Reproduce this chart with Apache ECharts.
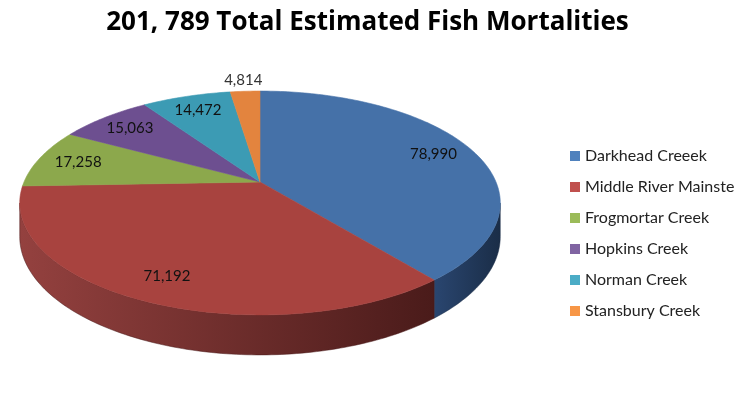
<!DOCTYPE html>
<html>
<head>
<meta charset="utf-8">
<script src="https://cdn.jsdelivr.net/npm/echarts@6/dist/echarts.min.js"></script>
<style>
  html, body { margin: 0; padding: 0; background: #fff; }
  #chart { width: 735px; height: 400px; }
</style>
</head>
<body>
<div id="chart"></div>
<script>
// data
var titleText = '201, 789 Total Estimated Fish Mortalities';
var categories = ['Darkhead Creeek', 'Middle River Mainstem', 'Frogmortar Creek', 'Hopkins Creek', 'Norman Creek', 'Stansbury Creek'];
var values = [78990, 71192, 17258, 15063, 14472, 4814];

// colours (legend / top face / side wall)
var legendColors = ['#4F81BD', '#C0504D', '#9BBB59', '#8064A2', '#4BACC6', '#F79646'];
var topColors = ['#4571A8', '#A8433F', '#8CA84C', '#6D4F90', '#3C9BB4', '#E3843E'];
var sideColors = [['#2A4670', '#1A2D47'], ['#94413F', '#4A1B1A'], ['#6A8236', '#4A5C24'],
                  ['#523A70', '#3A2850'], ['#2C7890', '#1E5466'], ['#B8622A', '#80421C']];

// fake 3d: perspective projected disc
var cx = 260, cy = 182, A = 236, B = 108, k = 0.1875, D = 32.5;
var total = values.reduce(function (a, b) { return a + b; }, 0);
var cum = [];
values.reduce(function (acc, v, i) { cum[i] = acc; return acc + v; }, 0);
var phiLo = Math.acos(-k) * 180 / Math.PI;
var phiHi = 360 - phiLo;

function project(phi, r) {
    var p = phi * Math.PI / 180;
    var u = r * Math.sin(p), v = r * Math.cos(p);
    var d = 1 + k * v;
    return [cx + A * u / d, cy - B * v / d];
}
function projectBottom(phi) {
    var pt = project(phi, 1);
    var v = Math.cos(phi * Math.PI / 180);
    return [pt[0], pt[1] + D / (1 + k * v)];
}
function rim(a, b, fn) {
    var pts = [];
    var n = Math.max(2, Math.ceil(Math.abs(b - a)));
    for (var j = 0; j <= n; j++) pts.push(fn(a + (b - a) * j / n));
    return pts;
}
function fmt(n) {
    return String(n).replace(/\B(?=(\d{3})+(?!\d))/g, ',');
}

function renderSlice(params, api) {
    var i = params.seriesIndex;
    var val = api.value(0);
    var start = cum[i] / total * 360;
    var end = (cum[i] + val) / total * 360;
    var children = [];

    var topPts = [[cx, cy]].concat(rim(start, end, function (p) { return project(p, 1); }));
    children.push({
        type: 'polygon',
        z2: 10,
        shape: { points: topPts },
        style: { fill: topColors[i], stroke: topColors[i], lineWidth: 0.6 }
    });

    var s = Math.max(start, phiLo), e = Math.min(end, phiHi);
    if (s < e) {
        var sidePts = rim(s, e, function (p) { return project(p, 1); })
            .concat(rim(e, s, projectBottom));
        children.push({
            type: 'polygon',
            z2: 1,
            shape: { points: sidePts },
            style: {
                fill: new echarts.graphic.LinearGradient(0, 0, 1, 0, [
                    { offset: 0, color: sideColors[i][0] },
                    { offset: 1, color: sideColors[i][1] }
                ]),
                stroke: sideColors[i][1],
                lineWidth: 0.5
            }
        });
    }

    // small slices get their label outside, the rest inside
    var mid = (start + end) / 2;
    var r = val / total < 0.05 ? 1.15 : 0.82;
    var lp = project(mid, r);
    children.push({
        type: 'text',
        z2: 20,
        style: {
            text: fmt(val),
            x: lp[0], y: lp[1],
            align: 'center', verticalAlign: 'middle',
            fontFamily: 'Lato', fontSize: 15,
            fill: r > 1 ? '#333' : '#111'
        }
    });
    return { type: 'group', children: children };
}

var chart = echarts.init(document.getElementById('chart'));
var series = categories.map(function (name, i) {
    return {
        type: 'custom',
        name: name,
        coordinateSystem: 'none',
        itemStyle: { color: legendColors[i] },
        renderItem: renderSlice,
        data: [[values[i]]]
    };
});

chart.setOption({
    animation: false,
    title: {
        text: titleText,
        left: 'center',
        top: 5,
        textStyle: { fontFamily: 'Open Sans', fontWeight: 'bold', fontSize: 26, color: '#000' }
    },
    legend: {
        data: categories,
        orient: 'vertical',
        left: 565,
        top: 143,
        icon: 'rect',
        itemWidth: 10,
        itemHeight: 10,
        itemGap: 15,
        selectedMode: false,
        textStyle: { fontFamily: 'Lato', fontSize: 16, lineHeight: 16, color: '#222' }
    },
    series: series
});
</script>
</body>
</html>
